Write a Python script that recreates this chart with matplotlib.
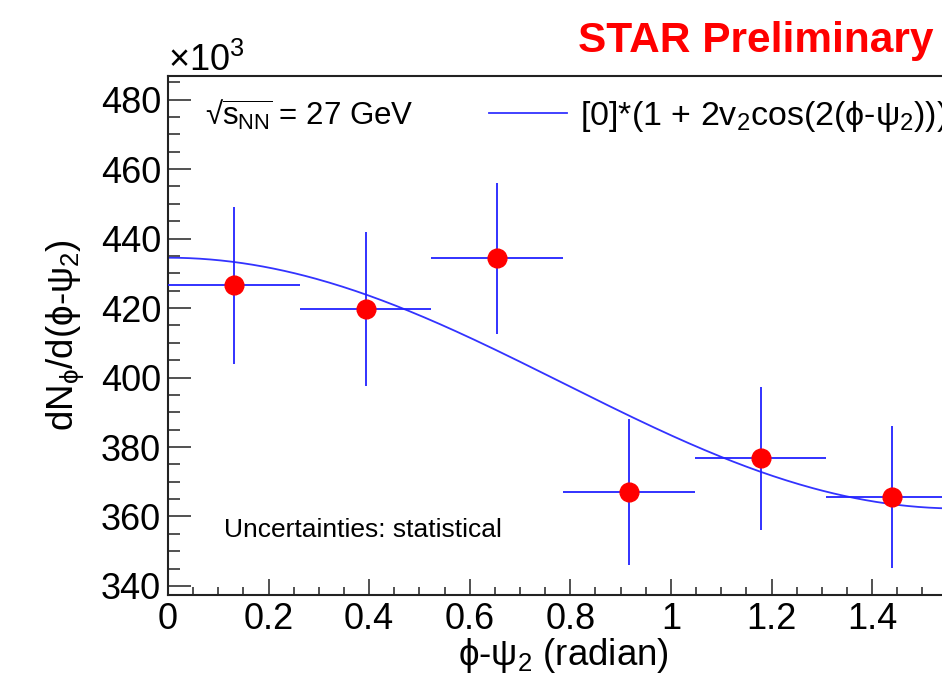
import numpy as np
import matplotlib
matplotlib.use("Agg")
import matplotlib.pyplot as plt
from matplotlib.ticker import MultipleLocator, FormatStrFormatter

plt.rcParams['font.family'] = ['Liberation Sans', 'DejaVu Sans']
plt.rcParams['mathtext.fontset'] = 'custom'
plt.rcParams['mathtext.rm'] = 'Liberation Sans'
plt.rcParams['mathtext.it'] = 'Liberation Sans'
plt.rcParams['mathtext.bf'] = 'Liberation Sans:bold'
plt.rcParams['mathtext.fallback'] = 'stixsans'

# 6 bins in phi - psi_2 (0 .. pi/2), yields in units of 10^3
bin_edges = np.linspace(0, np.pi / 2, 7)
yields = [426.6, 419.8, 434.3, 367.1, 376.7, 365.7]
stat_err = [22.6, 22.2, 21.7, 21.1, 20.7, 20.4]

# fit parameters of [0]*(1 + 2 v2 cos(2(phi-psi2)))
p0 = 398.4
v2 = 0.0453

x_center = 0.5 * (bin_edges[:-1] + bin_edges[1:])
x_halfw = 0.5 * np.diff(bin_edges)

fig = plt.figure(figsize=(9.42, 6.73), dpi=100)
ax = fig.add_axes([168 / 942, 78 / 673, 790 / 942, 519 / 673])

xf = np.linspace(0, np.pi / 2, 300)
fit = p0 * (1 + 2 * v2 * np.cos(2 * xf))
fit_line, = ax.plot(xf, fit, color='#3333ff', lw=1.3, zorder=2,
                    label=r'[0]*(1 + 2v$_{2}$cos(2($\phi$-$\psi_{2}$)))')

ax.errorbar(x_center, yields, xerr=x_halfw, yerr=stat_err, fmt='none',
            ecolor='#2222ff', elinewidth=1.3, capsize=0, zorder=3)
ax.plot(x_center, yields, 'o', color='red', ms=13.5, mec='red', zorder=4)

ax.set_xlim(0, np.pi / 2)
ax.set_ylim(337.4, 486.8)

ax.xaxis.set_major_locator(MultipleLocator(0.2))
ax.xaxis.set_minor_locator(MultipleLocator(0.05))
ax.yaxis.set_major_locator(MultipleLocator(20))
ax.yaxis.set_minor_locator(MultipleLocator(5))
ax.xaxis.set_major_formatter(FormatStrFormatter('%g'))
ax.yaxis.set_major_formatter(FormatStrFormatter('%g'))

ax.tick_params(which='both', direction='in', colors='#222222', width=1.1,
               labelsize=26, labelcolor='black')
ax.tick_params(axis='x', which='major', length=11.5, pad=5)
ax.tick_params(axis='x', which='minor', length=5.8)
ax.tick_params(axis='y', which='major', length=16.5, pad=5)
ax.tick_params(axis='y', which='minor', length=8.6)
for s in ax.spines.values():
    s.set_linewidth(1.5)
    s.set_color('#222222')

ax.set_xlabel(r'$\phi$-$\psi_{2}$ (radian)', fontsize=26.5, labelpad=-1)
fig.text(65 / 942, 0.502, r'dN$_{\phi}$/d($\phi$-$\psi_{2}$)', rotation=90,
         ha='center', va='center', fontsize=26.5)

fig.text(168 / 942, (673 - 71) / 673, r'$\times$10$^{3}$', fontsize=26,
         ha='left', va='baseline')
fig.text(933 / 942, (673 - 52) / 673, 'STAR Preliminary', color='red',
         fontsize=30.5, fontweight='bold', ha='right', va='baseline')

ax.text((205 - 168) / 790, (595 - 125) / 519, '\u221a$\\overline{s_{NN}}$ = 27 GeV',
        transform=ax.transAxes, fontsize=22.5, ha='left', va='baseline')
ax.text((224 - 168) / 790, (595 - 537) / 519, 'Uncertainties: statistical',
        transform=ax.transAxes, fontsize=19, ha='left', va='baseline')

ax.legend(handles=[fit_line], loc='center left',
          bbox_to_anchor=((489 - 168) / 790, (595 - 116) / 519),
          frameon=False, fontsize=24.5, handlelength=2.3, handletextpad=0.37,
          borderpad=0, borderaxespad=0)

fig.savefig('out.png', dpi=100)
